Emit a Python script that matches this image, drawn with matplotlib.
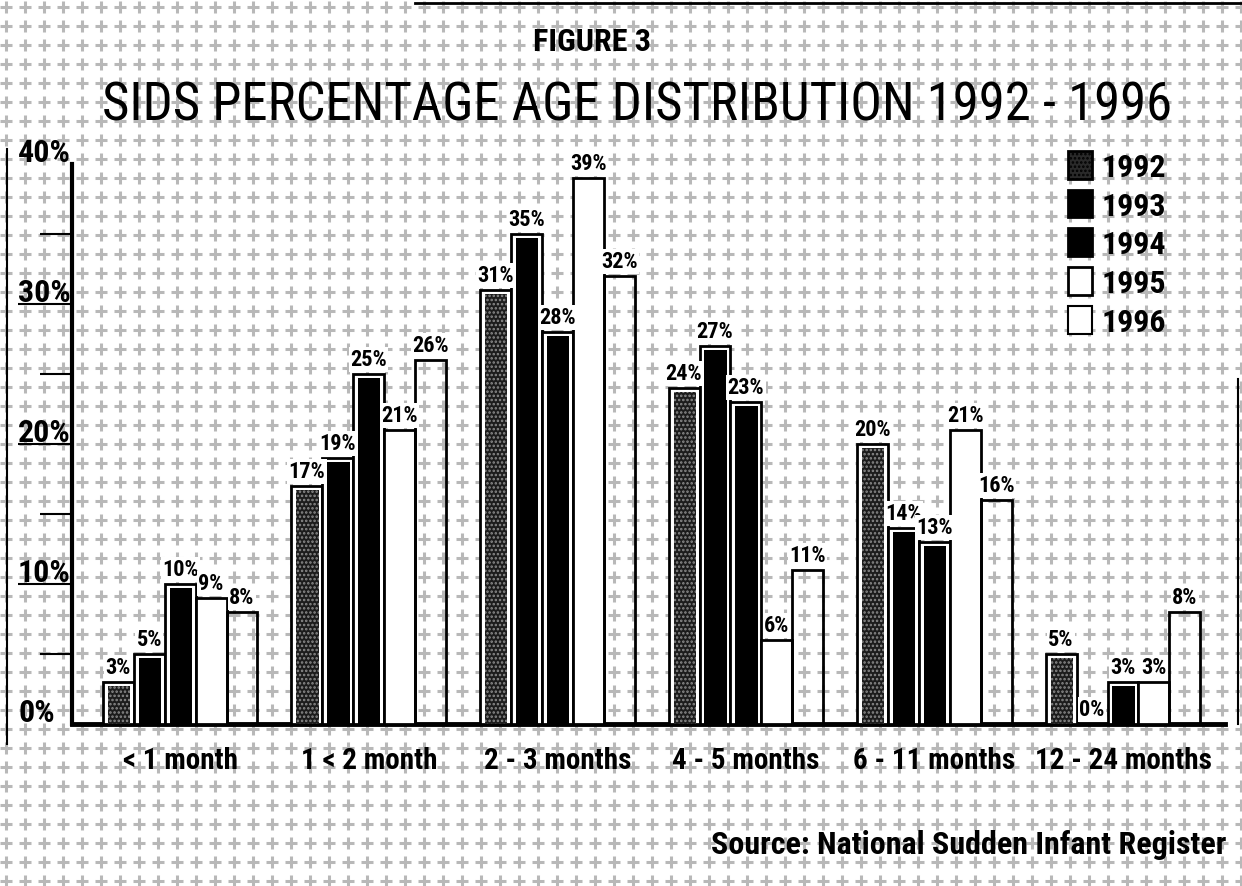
import numpy as np
import matplotlib
matplotlib.use("Agg")
import matplotlib.pyplot as plt
from matplotlib.patches import Patch
from matplotlib.transforms import blended_transform_factory

# ------------------------------------------------------------
# SIDS age distribution 1992 - 1996, grouped bar chart
# ------------------------------------------------------------

CATEGORIES = ["< 1 month", "1 < 2 month", "2 - 3 months",
              "4 - 5 months", "6 - 11 months", "12 - 24 months"]
YEARS = ["1992", "1993", "1994", "1995", "1996"]

PCT_1992 = [3, 17, 31, 24, 20, 5]
PCT_1993 = [5, 19, 35, 27, 14, 0]
PCT_1994 = [10, 25, 28, 23, 13, 3]
PCT_1995 = [9, 21, 39, 6, 21, 3]
PCT_1996 = [8, 26, 32, 11, 16, 8]

Y_LABELS = ["0%", "10%", "20%", "30%", "40%"]
Y_LABEL_POS = [0, 10, 20, 30, 40]

SOURCE = "Source: National Sudden Infant Register"

FONT = ["Roboto Condensed", "DejaVu Sans"]
plt.rcParams["font.family"] = FONT
plt.rcParams["font.stretch"] = "condensed"
plt.rcParams["hatch.linewidth"] = 1.2

W, H = 1242, 887
GROUP_STEP = 6.1
BAR_W = 1.0


def draw_texture(fig):
    # grey cross pattern behind everything
    bg = fig.add_axes([0, 0, 1, 1], zorder=-5)
    bg.set_xlim(0, W)
    bg.set_ylim(H, 0)
    bg.axis("off")
    gx, gy = np.meshgrid(np.arange(6, W, 19), np.arange(8, H, 19))
    bg.plot(gx.ravel(), gy.ravel(), "+", color="#b8b8b8", ms=8, mew=2.2)
    # scan border lines
    bg.plot([7, 7], [150, 745], color="black", lw=1.5)
    bg.plot([415, W], [4, 4], color="black", lw=2)
    bg.plot([1238, 1238], [380, 725], color="black", lw=1.5)


def bar_style(year):
    if year == "1992":
        return dict(inner="#1c1c1c", hatch="....", hatch_col="#8c8c8c")
    if year in ("1993", "1994"):
        return dict(inner="black", hatch=None, hatch_col="black")
    if year == "1995":
        return dict(inner=None, face="white")
    return dict(inner=None, face="none")


def main():
    fig = plt.figure(figsize=(W / 100, H / 100), dpi=100)
    fig.patch.set_facecolor("white")
    draw_texture(fig)

    ax = fig.add_axes([72 / W, 162 / H, (1225 - 72) / W, 560 / H])
    ax.set_facecolor("none")

    series = [PCT_1992, PCT_1993, PCT_1994, PCT_1995, PCT_1996]
    centers = np.arange(len(CATEGORIES)) * GROUP_STEP

    for j, (year, vals) in enumerate(zip(YEARS, series)):
        x = centers + j * BAR_W
        vals = np.array(vals, dtype=float)
        st = bar_style(year)
        if st["inner"] is None:
            ax.bar(x, vals, width=BAR_W, facecolor=st["face"],
                   edgecolor="black", linewidth=2, zorder=3)
        else:
            ax.bar(x, vals, width=BAR_W, facecolor="white",
                   edgecolor="black", linewidth=2, zorder=3)
            inner = np.clip(vals - 0.3, 0, None)
            ax.bar(x + 0.02, inner, width=BAR_W * 0.72,
                   facecolor=st["inner"], edgecolor=st["hatch_col"],
                   hatch=st["hatch"], linewidth=0, zorder=4)
        for xi, v in zip(x, vals):
            ax.text(xi, v + 0.25, f"{v:.0f}%", ha="center", va="bottom",
                    fontsize=16, fontweight="bold", zorder=6,
                    bbox=dict(boxstyle="square,pad=0.06", fc="white", ec="none"))

    ax.set_xlim(-1.5, 35.8)
    ax.set_ylim(0, 40)

    for side in ("top", "right"):
        ax.spines[side].set_visible(False)
    ax.spines["left"].set_linewidth(3)
    ax.spines["bottom"].set_linewidth(3.5)

    # y axis: long ticks at tens, short ticks at fives, labels sit on them
    ax.set_yticks([10, 20, 30])
    ax.set_yticks([5, 15, 25, 35], minor=True)
    ax.tick_params(axis="y", which="major", direction="out", length=39,
                   width=1.5, labelleft=False)
    ax.tick_params(axis="y", which="minor", direction="out", length=23,
                   width=1.5)
    tr = blended_transform_factory(fig.transFigure, ax.transData)
    for lab, pos in zip(Y_LABELS, Y_LABEL_POS):
        ax.text(18 / W, pos + 0.2, lab, transform=tr, ha="left", va="baseline",
                fontsize=23, fontweight="bold", clip_on=False)

    ax.set_xticks(centers + 2 * BAR_W)
    ax.set_xticklabels(CATEGORIES, fontsize=21, fontweight="bold")
    ax.tick_params(axis="x", length=0, pad=16)

    # legend
    handles = [
        Patch(facecolor="#2a2a2a", edgecolor="black", hatch="....", linewidth=2),
        Patch(facecolor="black", edgecolor="black", linewidth=2),
        Patch(facecolor="black", edgecolor="black", linewidth=2),
        Patch(facecolor="white", edgecolor="black", linewidth=2),
        Patch(facecolor="white", edgecolor="black", linewidth=1.5),
    ]
    fig.legend(handles, YEARS, loc="upper left",
               bbox_to_anchor=(1068 / W, 1 - 152 / H),
               frameon=False,
               prop=dict(family=FONT, size=23, weight="bold", stretch="condensed"),
               handlelength=0.75, handleheight=0.95, handletextpad=0.3,
               labelspacing=0.25, borderpad=0, borderaxespad=0)

    fig.text(592 / W, 1 - 42 / H, "FIGURE 3", ha="center", va="center",
             fontsize=23, fontweight="bold")
    fig.text(637 / W, 1 - 106 / H, "SIDS PERCENTAGE AGE DISTRIBUTION 1992 - 1996",
             ha="center", va="center", fontsize=38)
    fig.text(1226 / W, 1 - 845 / H, SOURCE, ha="right", va="center",
             fontsize=23, fontweight="bold")

    fig.savefig("out.png", dpi=100)


if __name__ == "__main__":
    main()
